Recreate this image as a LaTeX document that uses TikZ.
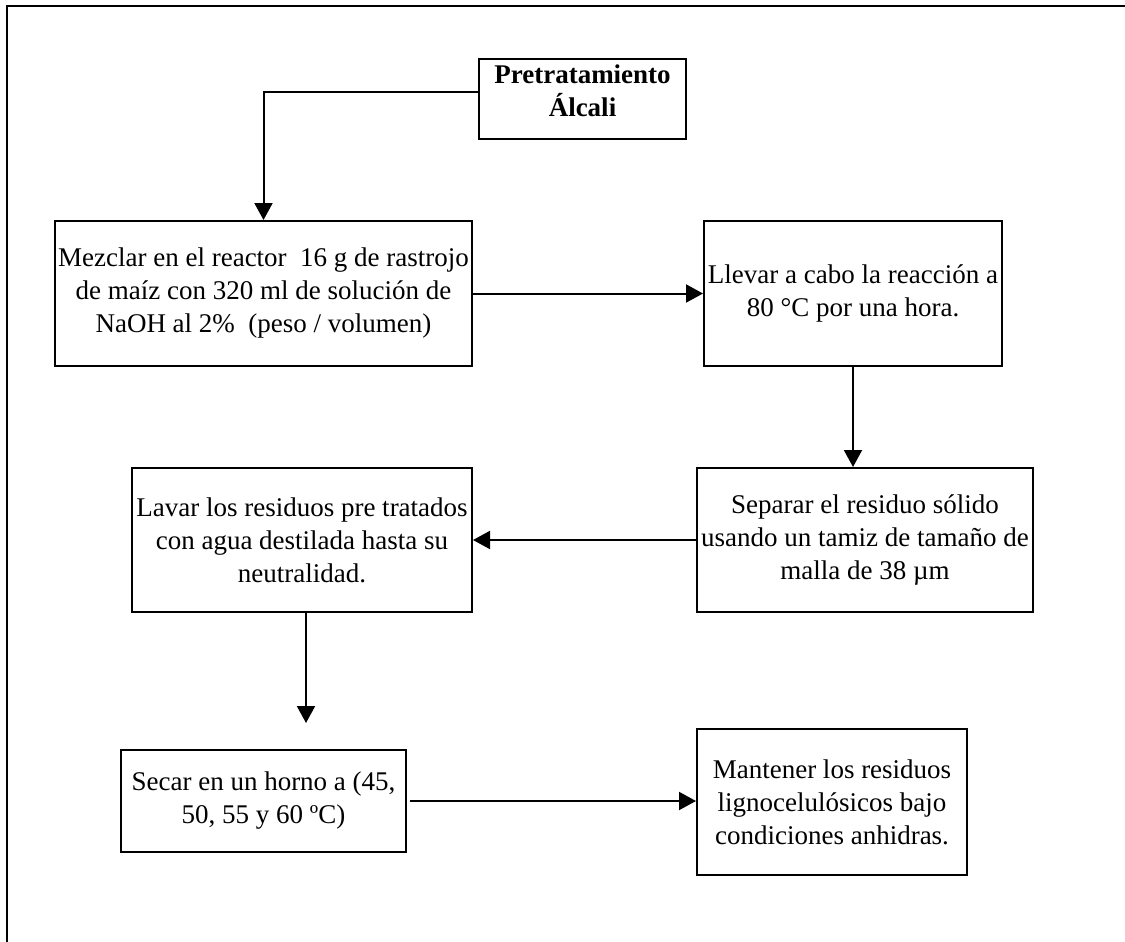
\documentclass[tikz,border=0pt]{standalone}
\usepackage{fontspec}
\setmainfont{Liberation Serif}
\usetikzlibrary{arrows.meta,calc}
\tikzset{
  stepbox/.style={draw, line width=1pt, align=center, inner sep=0pt,
    font=\fontsize{13.5}{16.5}\selectfont},
  titletext/.style={align=center, inner sep=0pt,
    font=\fontsize{13.5}{16.5}\selectfont\bfseries},
  flow/.style={line width=1pt, -{Triangle[length=8.5pt,width=9pt]}},
  frameline/.style={line width=1pt},
}
\begin{document}
\begin{tikzpicture}[x=0.5pt,y=-0.5pt]
\useasboundingbox (0,0) rectangle (1125,942);
% open frame: left and top edges only
\draw[frameline] (7,942) -- (7,6) -- (1125,6);

% process boxes
\node[stepbox, minimum width=103.5pt, minimum height=40pt] (pre) at (582.5,99) {};
\node[titletext] (pretitle) at (582.5,91) {Pretratamiento\\Álcali};

\node[stepbox, minimum width=208.5pt, minimum height=72.5pt] (mez) at (263.5,293.5)
  {Mezclar en el reactor\ \ 16 g de rastrojo\\de maíz con 320 ml de solución de\\NaOH al 2\%\ \ (peso / volumen)};

\node[stepbox, minimum width=149pt, minimum height=72.5pt] (llev) at (853,293.5)
  {Llevar a cabo la reacción a\\80 °C por una hora.};

\node[stepbox, minimum width=168pt, minimum height=72pt] (sep) at (865,540)
  {Separar el residuo sólido\\usando un tamiz de tamaño de\\malla de 38 µm};

\node[stepbox, minimum width=170pt, minimum height=72pt] (lav) at (302,540)
  {Lavar los residuos pre tratados\\con agua destilada hasta su\\neutralidad.};

\node[stepbox, minimum width=142.5pt, minimum height=51pt] (sec) at (263.5,801)
  {Secar en un horno a (45,\\50, 55 y 60 ºC)};

\node[stepbox, minimum width=135pt, minimum height=73pt] (man) at (832,802)
  {Mantener los residuos\\lignocelulósicos bajo\\condiciones anhidras.};

% connectors
\draw[flow] ($(pre.west)+(0,-7)$) -| (mez.north);
\draw[flow] (mez.east) -- (llev.west);
\draw[flow] (llev.south) -- (llev.south |- sep.north);
\draw[flow] (sep.west) -- (lav.east);
\coordinate (drop) at (306,723);
\draw[flow] (lav.south -| drop) -- (drop);
\draw[flow] ([xshift=1.5pt]sec.east) -- (sec.east -| man.west);
\end{tikzpicture}
\end{document}
